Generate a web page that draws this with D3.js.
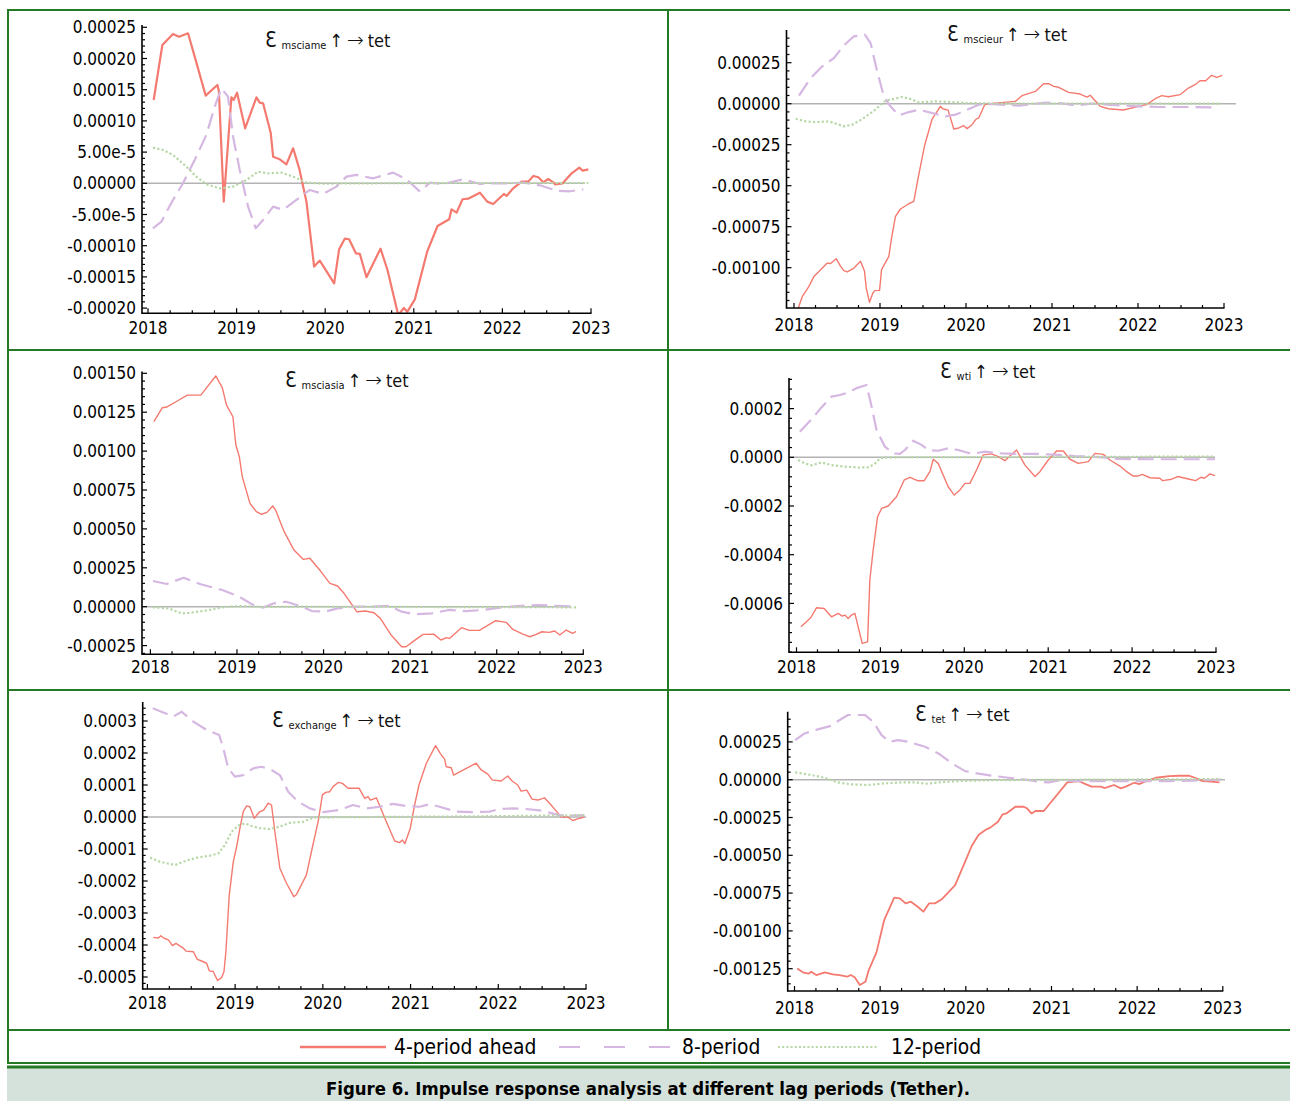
<!DOCTYPE html>
<html>
<head>
<meta charset="utf-8">
<script src="https://cdnjs.cloudflare.com/ajax/libs/d3/7.8.5/d3.min.js"></script>
<style>
  body { margin: 0; background: #fff; }
  svg { display: block; }
</style>
</head>
<body>
<svg id="fig" width="1290" height="1101"></svg>
<script>
// impulse responses of tet to each shock
// every point is [year, value in units of 1e-5]
var periods = ["4-period ahead", "8-period", "12-period"];
var shocks = ["msciame", "mscieur", "msciasia", "wti", "exchange", "tet"];
var years = [2018, 2019, 2020, 2021, 2022, 2023];

var msciame4 = [[2018.064,13.35],[2018.162,22.17],[2018.282,23.93],[2018.35,23.5],[2018.452,24.04],[2018.527,20.3],[2018.651,14.05],[2018.783,15.76],[2018.8,14.8],[2018.855,-2.94],[2018.941,13.78],[2018.967,13.35],[2019.005,14.53],[2019.096,8.81],[2019.224,13.78],[2019.261,12.93],[2019.299,12.82],[2019.386,8.01],[2019.412,4.27],[2019.487,3.85],[2019.562,3.04],[2019.638,5.61],[2019.706,2.4],[2019.788,-2.9],[2019.875,-13.35],[2019.939,-12.39],[2020.101,-16.03],[2020.157,-10.58],[2020.221,-8.87],[2020.27,-8.97],[2020.346,-11.22],[2020.391,-11.32],[2020.466,-15.06],[2020.624,-10.47],[2020.703,-13.89],[2020.824,-21.1],[2020.888,-19.98],[2020.926,-20.6],[2021.012,-18.6],[2021.151,-10.95],[2021.268,-6.84],[2021.4,-5.77],[2021.426,-4.17],[2021.483,-4.7],[2021.55,-2.56],[2021.614,-2.46],[2021.746,-1.5],[2021.829,-2.94],[2021.897,-3.31],[2022.017,-1.71],[2022.047,-2.03],[2022.122,-0.8],[2022.217,0.27],[2022.292,0.27],[2022.349,1.18],[2022.405,0.96],[2022.462,0.16],[2022.518,0.69],[2022.575,0.16],[2022.594,-0.16],[2022.68,0],[2022.782,1.6],[2022.868,2.51],[2022.906,2.03],[2022.97,2.24]];
var msciame8 = [[2018.056,-7.21],[2018.151,-6.14],[2018.282,-2.67],[2018.395,0],[2018.527,3.74],[2018.659,7.75],[2018.753,12.29],[2018.828,15.22],[2018.903,13.89],[2018.96,7.48],[2019.035,2.14],[2019.13,-3.74],[2019.216,-7.21],[2019.299,-5.88],[2019.412,-3.74],[2019.525,-4.27],[2019.675,-2.67],[2019.826,-1.07],[2019.977,-1.71],[2020.127,-0.53],[2020.24,1.07],[2020.353,1.34],[2020.541,0.8],[2020.767,1.71],[2020.918,0.64],[2021.069,-1.34],[2021.182,0.11],[2021.332,-0.11],[2021.558,0.64],[2021.746,-0.11],[2021.897,0],[2022.047,0],[2022.236,0.1],[2022.424,-0.32],[2022.612,-1.18],[2022.763,-1.28],[2022.913,-0.96]];
var msciame12 = [[2018.056,5.72],[2018.17,5.34],[2018.282,4.54],[2018.433,2.67],[2018.546,1.07],[2018.659,-0.16],[2018.81,-0.8],[2018.96,-0.53],[2019.111,0.53],[2019.242,1.87],[2019.355,1.6],[2019.506,1.71],[2019.638,1.07],[2019.788,0.11],[2019.977,-0.05],[2020.5,0],[2021.5,0.05],[2022.97,0.05]];

var mscieur4 = [[2018.05,-124.6],[2018.097,-117.5],[2018.174,-111.4],[2018.232,-105.3],[2018.31,-101.2],[2018.387,-97.2],[2018.426,-97.4],[2018.491,-94.5],[2018.542,-99.2],[2018.58,-101.8],[2018.619,-102.6],[2018.697,-100.2],[2018.774,-96.1],[2018.82,-102.2],[2018.84,-112.4],[2018.878,-121.1],[2018.917,-115.4],[2018.94,-114],[2018.995,-113.8],[2019.018,-101.2],[2019.103,-93.1],[2019.134,-81.9],[2019.18,-68.7],[2019.238,-64.2],[2019.335,-61],[2019.393,-59.6],[2019.451,-43.3],[2019.521,-25],[2019.606,-9.35],[2019.703,-1.6],[2019.73,-3.05],[2019.792,-3.9],[2019.858,-15.4],[2019.916,-14.8],[2019.974,-13.4],[2020.012,-15.2],[2020.07,-12.8],[2020.117,-9.35],[2020.148,-8.7],[2020.218,-0.6],[2020.303,0.2],[2020.574,1.42],[2020.651,4.9],[2020.806,7.5],[2020.903,12.2],[2020.961,12.2],[2021.019,10.6],[2021.077,10],[2021.193,6.9],[2021.328,5.9],[2021.406,4.07],[2021.444,5.1],[2021.56,-1.6],[2021.657,-3.05],[2021.831,-3.86],[2022.005,-1.63],[2022.102,-0.6],[2022.2,3.05],[2022.276,4.9],[2022.354,4.27],[2022.489,5.5],[2022.586,9.55],[2022.663,11.6],[2022.721,14],[2022.787,14],[2022.857,17.3],[2022.915,16.1],[2022.981,17.3]];
var mscieur8 = [[2018.058,4.9],[2018.193,15.6],[2018.329,22.8],[2018.464,27.8],[2018.58,35.6],[2018.697,41.1],[2018.824,42.1],[2018.89,37],[2018.967,19.7],[2019.045,4.5],[2019.122,-1.6],[2019.219,-7.1],[2019.335,-5.1],[2019.451,-3.7],[2019.606,-5.7],[2019.761,-7.7],[2019.877,-6.7],[2020.012,-3.7],[2020.148,-0.6],[2020.303,-0.2],[2020.612,-1.2],[2020.922,0.6],[2021.115,0.2],[2021.27,-1],[2021.464,0],[2021.773,-1],[2022.005,-1.6],[2022.237,-2],[2022.547,-2],[2022.857,-2.2]];
var mscieur12 = [[2018.02,-9.15],[2018.135,-10.8],[2018.252,-11.2],[2018.406,-10.8],[2018.58,-13.8],[2018.677,-12.8],[2018.793,-9.35],[2018.929,-4.3],[2019.064,1.8],[2019.258,4.07],[2019.355,2.85],[2019.451,0.8],[2019.645,1.42],[2019.838,1],[2020.032,0.4],[2020.419,0],[2022.97,0]];

var msciasia4 = [[2018.04,118.9],[2018.138,127.9],[2018.188,128.3],[2018.311,132.2],[2018.425,136],[2018.582,136],[2018.755,148.3],[2018.83,140.8],[2018.879,129.6],[2018.953,122.1],[2018.987,103.9],[2019.027,96.4],[2019.061,83.6],[2019.15,66.4],[2019.224,61.1],[2019.283,59.4],[2019.347,60.6],[2019.412,64.7],[2019.446,62.1],[2019.545,48.2],[2019.658,36.4],[2019.767,30.4],[2019.841,31.1],[2019.965,22.9],[2020.073,15],[2020.162,13.3],[2020.236,8.6],[2020.384,-3.2],[2020.483,-2.8],[2020.582,-3.9],[2020.656,-7.5],[2020.78,-18.2],[2020.902,-25.7],[2020.952,-25.7],[2021.04,-22.1],[2021.149,-17.8],[2021.272,-17.6],[2021.356,-21.4],[2021.42,-19.9],[2021.455,-20.4],[2021.593,-13.5],[2021.682,-15.2],[2021.8,-15.2],[2021.988,-9],[2022.111,-10.1],[2022.186,-14.6],[2022.309,-17.8],[2022.383,-19.3],[2022.457,-17.8],[2022.521,-16.1],[2022.605,-16.5],[2022.669,-15.6],[2022.729,-18.2],[2022.803,-15],[2022.877,-17.1],[2022.986,-13.9]];
var msciasia8 = [[2018.03,16.5],[2018.188,14.6],[2018.385,18.6],[2018.582,14.4],[2018.829,10.7],[2019.027,6.4],[2019.175,1.5],[2019.298,-0.6],[2019.422,2.1],[2019.57,3.2],[2019.718,0.6],[2019.866,-2.8],[2020.014,-3.2],[2020.162,-1.1],[2020.36,0],[2020.557,0],[2020.754,0.6],[2020.902,-3.2],[2021.05,-4.9],[2021.248,-4.3],[2021.445,-2.1],[2021.643,-2.8],[2021.84,-2.1],[2022.037,-0.6],[2022.235,0.4],[2022.482,1.1],[2022.679,0.6],[2022.877,0.2]];
var msciasia12 = [[2018.03,-0.4],[2018.212,-1.1],[2018.36,-4.3],[2018.459,-3.9],[2018.681,-2.1],[2018.829,-0.4],[2019.027,0.4],[2019.224,0],[2019.471,-0.2],[2019.718,0],[2021.2,-0.2],[2022.975,-0.4]];

var wti4 = [[2018.052,-69.6],[2018.119,-67.5],[2018.171,-65.8],[2018.238,-61.8],[2018.33,-62.1],[2018.417,-65.5],[2018.497,-64.1],[2018.545,-65.2],[2018.576,-64.8],[2018.616,-66.2],[2018.656,-64.8],[2018.696,-64.1],[2018.783,-76.4],[2018.847,-75.8],[2018.874,-50.4],[2018.914,-38.1],[2018.966,-24.4],[2019.014,-21],[2019.093,-20],[2019.192,-16.2],[2019.284,-9.3],[2019.351,-8.2],[2019.443,-9.6],[2019.522,-9.6],[2019.59,-5.9],[2019.63,-0.8],[2019.689,-2.5],[2019.808,-12.1],[2019.88,-15.5],[2019.948,-13.4],[2020.007,-10.7],[2020.067,-10.7],[2020.146,-5.2],[2020.226,1],[2020.325,1.4],[2020.405,0.3],[2020.484,-1.4],[2020.544,0.5],[2020.623,3],[2020.723,-3.2],[2020.842,-7.9],[2020.901,-5.9],[2021.001,-1.1],[2021.1,2.6],[2021.18,2.6],[2021.259,-0.8],[2021.359,-2.5],[2021.478,-1.8],[2021.557,1.6],[2021.657,1.2],[2021.736,-1.1],[2021.855,-3.6],[2021.935,-5.9],[2022.014,-7.7],[2022.066,-7.7],[2022.121,-7],[2022.213,-8.4],[2022.332,-8.6],[2022.364,-9.6],[2022.471,-9],[2022.543,-7.9],[2022.67,-8.9],[2022.757,-9.6],[2022.821,-8.2],[2022.861,-8.6],[2022.928,-6.8],[2022.988,-7.5]];
var wti8 = [[2018.04,10.5],[2018.179,15.6],[2018.298,20.5],[2018.417,24.9],[2018.517,25.6],[2018.616,26.6],[2018.715,28.4],[2018.835,29.7],[2018.886,22.2],[2018.954,11.2],[2019.053,4.4],[2019.153,1.6],[2019.232,1.4],[2019.292,3],[2019.391,6.8],[2019.49,5.1],[2019.57,3],[2019.689,2.7],[2019.808,3.7],[2019.928,3],[2020.087,1.4],[2020.246,2.3],[2020.444,1.6],[2020.643,1.4],[2020.882,1.4],[2021.12,1],[2021.319,0.5],[2021.517,0.3],[2021.676,-0.1],[2021.835,-0.7],[2022.233,-0.8],[2022.63,-0.8],[2022.988,-0.8]];
var wti12 = [[2018.02,-1.1],[2018.1,-2.5],[2018.179,-3.3],[2018.298,-2.1],[2018.417,-3.2],[2018.576,-3.8],[2018.735,-4.2],[2018.855,-4.1],[2018.926,-2.9],[2018.994,-0.4],[2019.093,0],[2022.988,0.3]];

var exchange4 = [[2018.068,-37.6],[2018.125,-37.8],[2018.152,-37.1],[2018.19,-37.9],[2018.239,-38.4],[2018.285,-40.2],[2018.326,-39.5],[2018.364,-40.2],[2018.41,-41],[2018.44,-41.9],[2018.524,-42.1],[2018.569,-44.5],[2018.618,-45],[2018.675,-45.7],[2018.706,-48.1],[2018.751,-48.3],[2018.778,-49.9],[2018.8,-51.1],[2018.846,-50.2],[2018.873,-48.3],[2018.895,-42.1],[2018.933,-24.4],[2018.979,-14],[2019.017,-9.3],[2019.055,-3.5],[2019.093,1.7],[2019.131,3.5],[2019.168,3.2],[2019.218,-0.4],[2019.275,1.5],[2019.328,2.2],[2019.377,4.3],[2019.415,3.75],[2019.453,-4.6],[2019.51,-16],[2019.586,-20.7],[2019.669,-24.9],[2019.7,-24.2],[2019.813,-18.1],[2019.882,-9.3],[2019.946,-1.5],[2019.995,6.9],[2020.033,7.7],[2020.079,7.9],[2020.117,9.5],[2020.174,10.8],[2020.223,10.5],[2020.288,9],[2020.413,9],[2020.477,5.8],[2020.515,6.4],[2020.542,5.3],[2020.61,6],[2020.724,-1.5],[2020.819,-7.5],[2020.876,-8],[2020.906,-7.2],[2020.936,-8.3],[2020.997,-3.5],[2021.046,3.75],[2021.096,10],[2021.18,16.8],[2021.285,22.3],[2021.338,19.9],[2021.388,18.1],[2021.407,15.7],[2021.464,15.4],[2021.491,13.1],[2021.748,16.8],[2021.805,14.7],[2021.881,13.4],[2021.93,11.6],[2022.033,11.25],[2022.108,12.8],[2022.158,11.25],[2022.222,10],[2022.26,8.1],[2022.325,8.4],[2022.385,5.6],[2022.45,5.3],[2022.526,6],[2022.602,3.75],[2022.659,1.9],[2022.716,0],[2022.792,0],[2022.848,-1.1],[2022.905,-0.6],[2022.981,0]];
var exchange8 = [[2018.061,34],[2018.296,31.4],[2018.391,32.9],[2018.524,29.8],[2018.675,27.2],[2018.819,25.6],[2018.865,21.5],[2018.922,15.2],[2018.998,12.6],[2019.093,13.1],[2019.206,15.2],[2019.301,15.7],[2019.415,14.7],[2019.51,13.1],[2019.605,7.9],[2019.719,4.8],[2019.851,2.7],[2020.003,1.5],[2020.193,2.2],[2020.344,3.75],[2020.496,2.7],[2020.648,3.2],[2020.8,4.1],[2020.951,3.4],[2021.103,3.2],[2021.217,4],[2021.331,3.2],[2021.52,1.7],[2021.71,1.5],[2021.9,1.7],[2022.014,2.5],[2022.165,2.7],[2022.317,2.5],[2022.469,2.1],[2022.696,0.6],[2022.848,0.4],[2022.981,0.6]];
var exchange12 = [[2018.03,-12.7],[2018.144,-14],[2018.315,-15],[2018.448,-13.6],[2018.58,-12.6],[2018.713,-12.1],[2018.808,-11.4],[2018.884,-8.75],[2018.96,-4.6],[2019.036,-2.7],[2019.112,-2],[2019.187,-2.8],[2019.282,-3.5],[2019.396,-3.75],[2019.51,-3],[2019.624,-1.8],[2019.775,-1.5],[2019.889,-0.2],[2020.041,-0.1],[2020.572,0],[2021.71,0.2],[2022.469,0.4],[2022.981,0.5]];

var tet4 = [[2018.031,-124.8],[2018.098,-127.4],[2018.164,-128.3],[2018.195,-127],[2018.254,-129.2],[2018.352,-127.4],[2018.449,-128.7],[2018.527,-129.2],[2018.617,-130.3],[2018.656,-129.2],[2018.703,-130.7],[2018.762,-135.8],[2018.828,-133.6],[2018.867,-125.9],[2018.957,-114.2],[2019.047,-92.8],[2019.164,-78],[2019.23,-78.5],[2019.297,-81.8],[2019.359,-80.7],[2019.438,-84],[2019.504,-87.3],[2019.57,-81.8],[2019.64,-81.8],[2019.719,-79.1],[2019.875,-69.7],[2019.992,-54.2],[2020.07,-43.7],[2020.148,-36.6],[2020.227,-33.3],[2020.285,-31.7],[2020.375,-27.8],[2020.43,-22.9],[2020.473,-22.3],[2020.578,-17.9],[2020.676,-17.9],[2020.715,-19],[2020.766,-22.3],[2020.813,-20.7],[2020.91,-20.7],[2021.184,-1.8],[2021.32,-0.9],[2021.398,-2.9],[2021.469,-4.6],[2021.574,-4.6],[2021.625,-5.5],[2021.672,-4.6],[2021.73,-3.5],[2021.809,-5.7],[2021.867,-4.6],[2021.965,-2],[2022.023,-2.9],[2022.102,-0.9],[2022.219,1.3],[2022.375,2.4],[2022.492,2.6],[2022.609,2.6],[2022.688,0.9],[2022.766,-0.9],[2022.863,-1.3],[2022.961,-1.8]];
var tet8 = [[2018.008,26.2],[2018.117,30.6],[2018.273,33.3],[2018.43,35.7],[2018.527,39.5],[2018.625,42.8],[2018.82,42.8],[2018.918,38.4],[2019.016,29.5],[2019.113,25.1],[2019.211,26.2],[2019.328,25.1],[2019.523,21.8],[2019.68,17.4],[2019.836,10.8],[2019.992,5.7],[2020.148,4],[2020.305,2.6],[2020.5,1.3],[2020.695,0],[2020.852,-1.3],[2020.969,-1.8],[2021.086,-0.4],[2021.281,-0.9],[2021.594,-0.9],[2021.984,-0.9],[2022.375,-0.9],[2022.766,-0.4],[2022.98,0]];
var tet12 = [[2018.008,4.85],[2018.195,3.1],[2018.352,1.3],[2018.508,-1.8],[2018.664,-3.1],[2018.859,-3.5],[2019.055,-2.4],[2019.25,-1.8],[2019.406,-1.8],[2019.543,-2.6],[2019.68,-1.8],[2019.914,-0.9],[2020.227,-0.4],[2020.617,-0.2],[2021.398,0],[2022.98,0.4]];

// y tick values (1e-5 units) and their printed labels
var msciameTicks = [25, 20, 15, 10, 5, 0, -5, -10, -15, -20];
var msciameLabels = ["0.00025", "0.00020", "0.00015", "0.00010", "5.00e-5", "0.00000", "-5.00e-5", "-0.00010", "-0.00015", "-0.00020"];
var mscieurTicks = [25, 0, -25, -50, -75, -100];
var mscieurLabels = ["0.00025", "0.00000", "-0.00025", "-0.00050", "-0.00075", "-0.00100"];
var msciasiaTicks = [150, 125, 100, 75, 50, 25, 0, -25];
var msciasiaLabels = ["0.00150", "0.00125", "0.00100", "0.00075", "0.00050", "0.00025", "0.00000", "-0.00025"];
var wtiTicks = [20, 0, -20, -40, -60];
var wtiLabels = ["0.0002", "0.0000", "-0.0002", "-0.0004", "-0.0006"];
var exchangeTicks = [30, 20, 10, 0, -10, -20, -30, -40, -50];
var exchangeLabels = ["0.0003", "0.0002", "0.0001", "0.0000", "-0.0001", "-0.0002", "-0.0003", "-0.0004", "-0.0005"];
var tetTicks = [25, 0, -25, -50, -75, -100, -125];
var tetLabels = ["0.00025", "0.00000", "-0.00025", "-0.00050", "-0.00075", "-0.00100", "-0.00125"];

var colors = ["#f47a70", "#d5b7e2", "#b7d8a6"];
var green = "#237a23";
var FONT = "'DejaVu Sans Condensed', 'DejaVu Sans', sans-serif";

// where each panel sits on the page (pixels)
var panels = [
  {series: [msciame4, msciame8, msciame12], ticks: msciameTicks, labels: msciameLabels, minor: 1,
   x18: 148, x23: 591, axisX: 142, zeroPx: 183.3, refVal: 25, refPx: 27.3, bottom: 313.3, top: 25,
   xLabY: 328, titleX: 265, titleY: 47, lw: 2.2, zeroEnd: 585},
  {series: [mscieur4, mscieur8, mscieur12], ticks: mscieurTicks, labels: mscieurLabels, minor: 5,
   x18: 794, x23: 1224, axisX: 786.5, zeroPx: 103.7, refVal: 25, refPx: 62.7, bottom: 308, top: 30,
   xLabY: 325, titleX: 947, titleY: 41, lw: 1.4, zeroEnd: 1236},
  {series: [msciasia4, msciasia8, msciasia12], ticks: msciasiaTicks, labels: msciasiaLabels, minor: 5,
   x18: 150.4, x23: 583.3, axisX: 142, zeroPx: 606.7, refVal: 150, refPx: 373.3, bottom: 654.3, top: 371.5,
   xLabY: 667, titleX: 285, titleY: 387, lw: 1.4, zeroEnd: 570},
  {series: [wti4, wti8, wti12], ticks: wtiTicks, labels: wtiLabels, minor: 4,
   x18: 796.5, x23: 1216, axisX: 789, zeroPx: 457.3, refVal: 20, refPx: 408.6, bottom: 652.3, top: 378,
   xLabY: 667, titleX: 940, titleY: 378, lw: 1.4, zeroEnd: 1215},
  {series: [exchange4, exchange8, exchange12], ticks: exchangeTicks, labels: exchangeLabels, minor: 2,
   x18: 147.4, x23: 586, axisX: 142.7, zeroPx: 817, refVal: 30, refPx: 721, bottom: 989, top: 702,
   xLabY: 1003, titleX: 272, titleY: 727, lw: 1.4, zeroEnd: 586},
  {series: [tet4, tet8, tet12], ticks: tetTicks, labels: tetLabels, minor: 5,
   x18: 794.5, x23: 1222.8, axisX: 787.7, zeroPx: 779.7, refVal: 25, refPx: 741.9, bottom: 991, top: 711.7,
   xLabY: 1008, titleX: 915, titleY: 721, lw: 1.8, zeroEnd: 1225}
];

var svg = d3.select("#fig");
var defs = svg.append("defs");

// frame of the figure
var frame = svg.append("g").attr("stroke", green).attr("stroke-width", 2);
[10, 350, 690, 1030, 1063].forEach(function (y) {
  frame.append("line").attr("x1", 7).attr("x2", 1290).attr("y1", y).attr("y2", y);
});
frame.append("line").attr("x1", 8).attr("x2", 8).attr("y1", 9).attr("y2", 1064);
frame.append("line").attr("x1", 668).attr("x2", 668).attr("y1", 10).attr("y2", 1030);
svg.append("rect").attr("x", 7).attr("y", 1068).attr("width", 1283).attr("height", 33).attr("fill", "#d5e2db");
svg.append("line").attr("x1", 7).attr("x2", 1290).attr("y1", 1067).attr("y2", 1067)
  .attr("stroke", green).attr("stroke-width", 3);

var dashes = [null, "16,7", "2.2,2.2"];

panels.forEach(function (p, i) {
  var x = d3.scaleLinear().domain([2018, 2023]).range([p.x18, p.x23]);
  var y = d3.scaleLinear().domain([0, p.refVal * 1e-5]).range([p.zeroPx, p.refPx]);
  var g = svg.append("g");

  defs.append("clipPath").attr("id", "clip" + i)
    .append("rect").attr("x", p.axisX).attr("y", p.top)
    .attr("width", p.zeroEnd - p.axisX + 6).attr("height", p.bottom - p.top);

  // zero reference line
  g.append("line")
    .attr("x1", p.axisX).attr("x2", p.zeroEnd)
    .attr("y1", y(0)).attr("y2", y(0))
    .attr("stroke", "#b3b3b3").attr("stroke-width", 1.5);

  var line = d3.line()
    .x(function (d) { return x(d[0]); })
    .y(function (d) { return y(d[1] * 1e-5); });

  var lines = g.append("g").attr("clip-path", "url(#clip" + i + ")");
  p.series.forEach(function (s, k) {
    lines.append("path")
      .datum(s)
      .attr("d", line)
      .attr("fill", "none")
      .attr("stroke", colors[k])
      .attr("stroke-width", k == 0 ? p.lw : 2.2)
      .attr("stroke-dasharray", dashes[k])
      .attr("stroke-linejoin", "round");
  });

  // axes
  var ax = g.append("g").attr("stroke", "#000");
  ax.append("line").attr("x1", p.axisX).attr("x2", p.x23 + 0.5)
    .attr("y1", p.bottom).attr("y2", p.bottom).attr("stroke-width", 1.6);
  ax.append("line").attr("x1", p.axisX).attr("x2", p.axisX)
    .attr("y1", p.bottom + 0.8).attr("y2", p.top).attr("stroke-width", 1.6);

  // x ticks: years plus quarters
  d3.range(2018, 2023.01, 0.25).forEach(function (t) {
    var major = Math.abs(t - Math.round(t)) < 1e-6;
    ax.append("line").attr("x1", x(t)).attr("x2", x(t))
      .attr("y1", p.bottom).attr("y2", p.bottom - (major ? 5 : 3)).attr("stroke-width", 1.2);
  });
  g.selectAll(".xl").data(years).enter().append("text")
    .attr("x", function (d) { return x(d); })
    .attr("y", p.xLabY)
    .attr("dy", "0.36em")
    .attr("text-anchor", "middle")
    .attr("font-family", FONT).attr("font-size", 17)
    .text(function (d) { return d; });

  // y ticks
  var lo = y.invert(p.bottom) / 1e-5, hi = y.invert(p.top) / 1e-5;
  d3.range(Math.ceil(lo / p.minor) * p.minor, hi + 1e-9, p.minor).forEach(function (v) {
    var major = p.ticks.indexOf(Math.round(v * 1000) / 1000) >= 0;
    ax.append("line").attr("x1", p.axisX).attr("x2", p.axisX + (major ? 5 : 3))
      .attr("y1", y(v * 1e-5)).attr("y2", y(v * 1e-5)).attr("stroke-width", 1.2);
  });
  g.selectAll(".yl").data(p.ticks).enter().append("text")
    .attr("x", p.axisX - 6)
    .attr("y", function (d) { return y(d * 1e-5); })
    .attr("dy", "0.36em")
    .attr("text-anchor", "end")
    .attr("font-family", FONT).attr("font-size", 17)
    .text(function (d, j) { return p.labels[j]; });

  // panel title: epsilon_shock up -> tet
  var t = g.append("text").attr("x", p.titleX).attr("y", p.titleY)
    .attr("font-family", FONT).attr("font-size", 18).attr("fill", "#111");
  t.append("tspan").attr("font-size", 21).text("\u0190");
  t.append("tspan").attr("font-size", 11).attr("dx", 5).attr("dy", 2).text(shocks[i]);
  t.append("tspan").attr("dy", -2).attr("dx", 3).text("\u2191");
  t.append("tspan").attr("dx", 4).attr("font-size", 20).attr("font-weight", 200)
    .attr("font-family", "'DejaVu Sans', sans-serif").text("\u2192");
  t.append("tspan").attr("dx", 4).text("tet");
});

// legend
var lg = svg.append("g");
var legendPos = [{x1: 300, x2: 386, tx: 394}, {x1: 559, x2: 670, tx: 682}, {x1: 778, x2: 878, tx: 891}];
var legendDash = [null, "21,24", "2,2.2"];
periods.forEach(function (name, k) {
  lg.append("line")
    .attr("x1", legendPos[k].x1).attr("x2", legendPos[k].x2)
    .attr("y1", 1047).attr("y2", 1047)
    .attr("stroke", colors[k]).attr("stroke-width", k == 0 ? 2.5 : 2.2)
    .attr("stroke-dasharray", legendDash[k]);
  lg.append("text")
    .attr("x", legendPos[k].tx).attr("y", 1047).attr("dy", "0.36em")
    .attr("font-family", FONT).attr("font-size", 20.8)
    .text(name);
});

svg.append("text")
  .attr("x", 648).attr("y", 1088).attr("dy", "0.36em")
  .attr("text-anchor", "middle")
  .attr("font-family", FONT).attr("font-weight", "bold").attr("font-size", 18.4)
  .text("Figure 6. Impulse response analysis at different lag periods (Tether).");
</script>
</body>
</html>
